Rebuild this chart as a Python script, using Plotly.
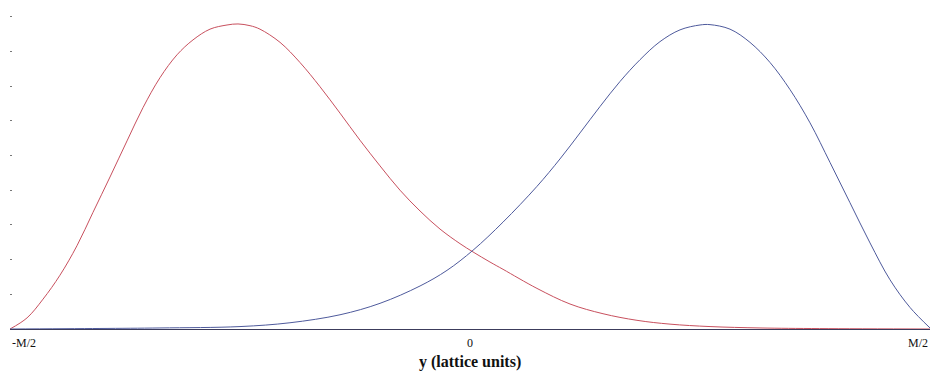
import plotly.graph_objects as go

# Positions across the lattice, in units of M (from -M/2 to M/2)
red_x = [-0.5, -0.4815, -0.4641, -0.4457, -0.4272, -0.4098, -0.3913, -0.3728,
         -0.3554, -0.3370, -0.3185, -0.3011, -0.2826, -0.2641, -0.2522, -0.2391,
         -0.2283, -0.2065, -0.1848, -0.1630, -0.1413, -0.1196, -0.0978, -0.0761,
         -0.0543, -0.0326, -0.0109, 0.0033, 0.0217, 0.0359, 0.0728, 0.1087,
         0.1446, 0.1815, 0.2174, 0.2609, 0.3152, 0.38, 0.5]
red_y = [0.0, 0.32, 0.86, 1.55, 2.40, 3.36, 4.38, 5.42,
         6.38, 7.24, 7.90, 8.33, 8.64, 8.76, 8.79, 8.74,
         8.64, 8.26, 7.68, 6.98, 6.22, 5.44, 4.70, 4.00,
         3.40, 2.88, 2.46, 2.22, 1.93, 1.72, 1.17, 0.72,
         0.44, 0.25, 0.14, 0.07, 0.03, 0.012, 0.0]

blue_x = [-0.5, -0.4022, -0.337, -0.25, -0.1957, -0.1413, -0.0978, -0.0543,
          -0.025, 0.0033, 0.0359, 0.0728, 0.0978, 0.1196, 0.1413, 0.1630,
          0.1848, 0.2065, 0.2283, 0.25, 0.2609, 0.2826, 0.3043, 0.3261,
          0.3478, 0.3696, 0.3913, 0.4130, 0.4348, 0.4565, 0.4783, 0.5]
blue_y = [0.0, 0.015, 0.03, 0.07, 0.18, 0.41, 0.74, 1.24,
          1.69, 2.27, 3.08, 4.11, 4.90, 5.65, 6.41, 7.13,
          7.76, 8.28, 8.62, 8.76, 8.77, 8.64, 8.26, 7.68,
          6.90, 5.94, 4.80, 3.64, 2.48, 1.42, 0.62, 0.03]

x_tick_vals = [-0.5, 0.0, 0.5]
x_tick_text = ["-M/2", "0", "M/2"]
y_tick_vals = [1, 2, 3, 4, 5, 6, 7, 8, 9]
x_title = "y (lattice units)"

fig = go.Figure()
fig.add_trace(go.Scatter(x=red_x, y=red_y, mode="lines",
                         line=dict(color="#c8505e", width=1, shape="spline", smoothing=1.0),
                         hoverinfo="skip", showlegend=False))
fig.add_trace(go.Scatter(x=blue_x, y=blue_y, mode="lines",
                         line=dict(color="#4e5a9c", width=1, shape="spline", smoothing=1.0),
                         hoverinfo="skip", showlegend=False))

serif = "Liberation Serif, Times New Roman, serif"
anchors = ["left", "center", "right"]
annotations = []
for xv, txt, anc in zip(x_tick_vals, x_tick_text, anchors):
    annotations.append(dict(x=xv, y=0, xref="x", yref="paper", text=txt,
                            showarrow=False, xanchor=anc, yanchor="top", yshift=-5,
                            font=dict(family=serif, size=12, color="#111")))
annotations.append(dict(x=0, y=0, xref="x", yref="paper", text="<b>" + x_title + "</b>",
                        showarrow=False, xanchor="center", yanchor="top", yshift=-22,
                        font=dict(family=serif, size=16, color="#111")))

fig.update_layout(
    width=933, height=376,
    margin=dict(l=10, r=3, t=0, b=47),
    paper_bgcolor="white", plot_bgcolor="white",
    xaxis=dict(range=[-0.5, 0.5], showgrid=False, zeroline=False, showticklabels=False,
               showline=True, linecolor="#3c3c5c", linewidth=1, ticks=""),
    yaxis=dict(range=[0, 9.48], showgrid=False, zeroline=False, showticklabels=False,
               showline=False, ticks="inside", ticklen=2, tickwidth=1, tickcolor="#777",
               tickvals=y_tick_vals),
    annotations=annotations,
)

fig.write_html("out.html")
